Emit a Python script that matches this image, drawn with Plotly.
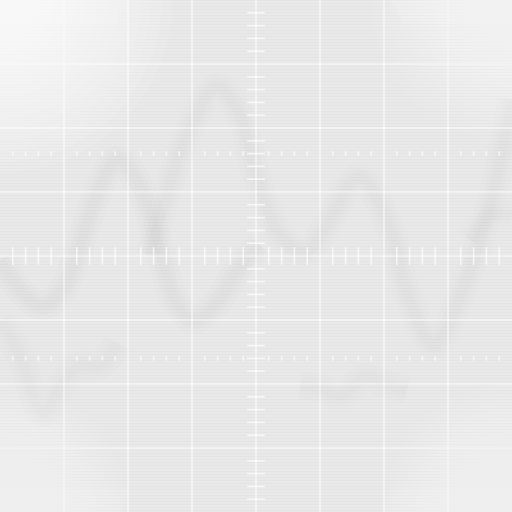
import plotly.graph_objects as go

# Waveform traces (units: divisions, centre = 0,0)
trace1_x = [-4.0, -3.69, -3.33, -3.02, -2.80, -2.52, -2.17, -1.81, -1.50, -1.27, -0.98, -0.64, -0.25, 0.06]
trace1_y = [-0.06, -0.53, -0.78, -0.52, 0.0, 0.88, 1.50, 1.08, 0.09, -0.69, -1.0, -0.77, -0.16, 0.17]

trace2_x = [-1.66, -1.42, -1.11, -0.61, -0.25, 0.0, 0.38, 0.77, 1.08, 1.61, 2.09, 2.36, 2.78, 3.30, 3.66, 4.0]
trace2_y = [0.02, 0.88, 1.81, 2.64, 2.20, 1.27, 0.33, 0.06, 0.44, 1.23, 0.45, -0.58, -1.38, -0.33, 0.80, 2.44]

trace3a_x = [-4.0, -3.69, -3.33, -3.02, -2.75, -2.44, -2.17]
trace3a_y = [-1.0, -1.56, -2.45, -1.98, -1.72, -1.72, -1.36]

trace3b_x = [0.69, 1.05, 1.30, 1.72, 2.03, 2.36]
trace3b_y = [-2.02, -2.08, -2.19, -1.90, -2.00, -2.10]

trace4_x = [3.34, 3.66, 4.0]
trace4_y = [0.25, 0.64, 0.64]

grid_div = [-3, -2, -1, 1, 2, 3]

fig = go.Figure()

waves = [(trace1_x, trace1_y, 1.0), (trace2_x, trace2_y, 0.9),
         (trace3a_x, trace3a_y, 0.7), (trace3b_x, trace3b_y, 0.6),
         (trace4_x, trace4_y, 0.5)]
for wx, wy, k in waves:
    for w, a in [(28, 0.018), (18, 0.022), (10, 0.025)]:
        fig.add_trace(go.Scatter(x=wx, y=wy, mode="lines",
                                 line=dict(color=f"rgba(110,110,110,{a*k:.4f})", width=w, shape="spline"),
                                 hoverinfo="skip", showlegend=False))

# scan-line texture
sx, sy = [], []
step = 3 / 64
y = -4.0
while y <= 4.0:
    sx += [-4, 4, None]
    sy += [y, y, None]
    y += step
fig.add_trace(go.Scatter(x=sx, y=sy, mode="lines",
                         line=dict(color="rgba(255,255,255,0.40)", width=1),
                         hoverinfo="skip", showlegend=False))

# graticule
gx, gy = [], []
for g in grid_div + [0]:
    gx += [g, g, None]; gy += [-4, 4, None]
    gx += [-4, 4, None]; gy += [g, g, None]
fig.add_trace(go.Scatter(x=gx, y=gy, mode="lines",
                         line=dict(color="rgba(255,255,255,0.62)", width=1.6),
                         hoverinfo="skip", showlegend=False))

# centre-axis minor ticks and marker rows
tx, ty = [], []
for k in range(-20, 21):
    if k % 5 == 0:
        continue
    v = k * 0.2
    tx += [v, v, None]; ty += [-0.14, 0.14, None]
    tx += [-0.14, 0.14, None]; ty += [v, v, None]
fig.add_trace(go.Scatter(x=tx, y=ty, mode="lines",
                         line=dict(color="rgba(255,255,255,0.72)", width=1.5),
                         hoverinfo="skip", showlegend=False))
mx, my = [], []
for row in (1.6, -1.6):
    for k in range(-20, 21):
        if k % 5 == 0:
            continue
        v = k * 0.2
        mx += [v, v, None]; my += [row - 0.035, row + 0.035, None]
fig.add_trace(go.Scatter(x=mx, y=my, mode="lines",
                         line=dict(color="rgba(255,255,255,0.72)", width=1.5),
                         hoverinfo="skip", showlegend=False))

shapes = []
# corner glows (soft, built from many faint discs)
for cx, cy, strength, rmax in [(-4, 4, 1.2, 2.7), (4, 4, 0.8, 2.2), (4, -4, 0.65, 2.0), (-4, -4, 0.65, 2.0)]:
    n = 16
    for i in range(n):
        r = rmax * (i + 1) / n
        shapes.append(dict(type="circle", xref="x", yref="y",
                           x0=cx - r, x1=cx + r, y0=cy - r, y1=cy + r,
                           fillcolor=f"rgba(255,255,255,{0.085*strength:.3f})",
                           line=dict(width=0), layer="above"))
# faint reflection strips
shapes.append(dict(type="path", xref="x", yref="y",
                   path="M -4 4 L -2.0 4 L -2.2 3.64 L -4 3.64 Z",
                   fillcolor="rgba(255,255,255,0.12)", line=dict(width=0), layer="above"))
shapes.append(dict(type="path", xref="x", yref="y",
                   path="M 2.1 4 L 4 4 L 4 3.64 L 2.3 3.64 Z",
                   fillcolor="rgba(255,255,255,0.12)", line=dict(width=0), layer="above"))
shapes.append(dict(type="path", xref="x", yref="y",
                   path="M -4 -4 L -2.1 -4 L -2.0 -3.64 L -4 -3.64 Z",
                   fillcolor="rgba(255,255,255,0.10)", line=dict(width=0), layer="above"))
shapes.append(dict(type="path", xref="x", yref="y",
                   path="M 2.0 -4 L 4 -4 L 4 -3.64 L 2.1 -3.64 Z",
                   fillcolor="rgba(255,255,255,0.10)", line=dict(width=0), layer="above"))

fig.update_layout(
    width=512, height=512,
    margin=dict(l=0, r=0, t=0, b=0),
    plot_bgcolor="#e4e4e4", paper_bgcolor="#e4e4e4",
    shapes=shapes,
    xaxis=dict(range=[-4, 4], visible=False, fixedrange=True),
    yaxis=dict(range=[-4, 4], visible=False, fixedrange=True),
    showlegend=False,
)
fig.write_html("out.html")
